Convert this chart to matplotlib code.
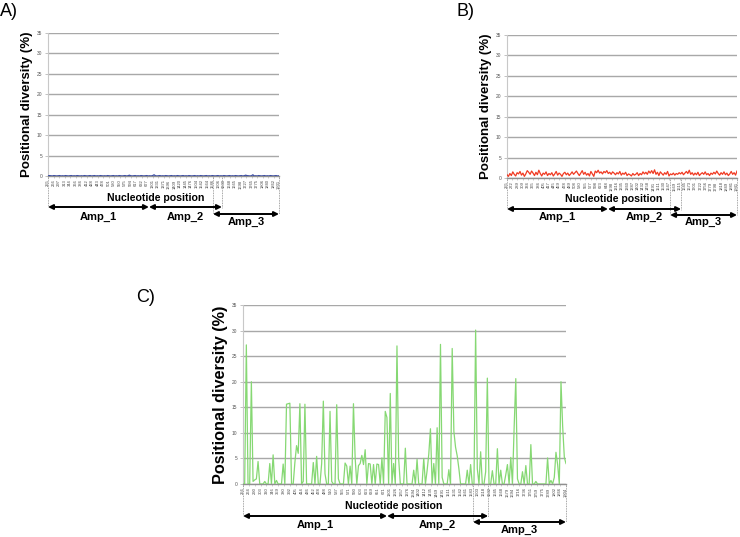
import numpy as np
import matplotlib
matplotlib.use("Agg")
import matplotlib.pyplot as plt
from matplotlib.transforms import blended_transform_factory

# ---------------- data ----------------
y_ticks = [0, 5, 10, 15, 20, 25, 30, 35]
amp_names = ["Amp_1", "Amp_2", "Amp_3"]

div_a = [0.05, 0.1, 0.05, 0.0, 0.1, 0.05, 0.0, 0.05, 0.1, 0.0,
         0.05, 0.0, 0.1, 0.05, 0.0, 0.05, 0.1, 0.0, 0.05, 0.0,
         0.1, 0.05, 0.0, 0.05, 0.0, 0.1, 0.05, 0.0, 0.05, 0.1,
         0.0, 0.05, 0.1, 0.0, 0.05, 0.0, 0.1, 0.05, 0.0, 0.05,
         0.0, 0.1, 0.05, 0.0, 0.05, 0.1, 0.0, 0.05, 0.0, 0.1,
         0.05, 0.0, 0.05, 0.1, 0.0, 0.05, 0.2, 0.05, 0.0, 0.05,
         0.1, 0.0, 0.05, 0.0, 0.1, 0.05, 0.0, 0.05, 0.1, 0.0,
         0.05, 0.0, 0.1, 0.3, 0.05, 0.0, 0.05, 0.1, 0.0, 0.05,
         0.0, 0.1, 0.05, 0.0, 0.05, 0.1, 0.0, 0.05, 0.0, 0.1,
         0.05, 0.0, 0.05, 0.1, 0.0, 0.05, 0.0, 0.1, 0.05, 0.0,
         0.05, 0.1, 0.0, 0.05, 0.0, 0.1, 0.05, 0.0, 0.05, 0.1,
         0.0, 0.05, 0.0, 0.1, 0.05, 0.0, 0.05, 0.1, 0.0, 0.05,
         0.0, 0.1, 0.05, 0.0, 0.05, 0.1, 0.0, 0.05, 0.0, 0.1,
         0.05, 0.0, 0.05, 0.1, 0.0, 0.05, 0.2, 0.1, 0.05, 0.0,
         0.05, 0.3, 0.0, 0.05, 0.0, 0.1, 0.05, 0.0, 0.05, 0.1,
         0.0, 0.05, 0.0, 0.1, 0.05, 0.0, 0.05, 0.1, 0.0, 0.05]

div_b = [0.8, 0.4, 1.1, 0.6, 1.5, 0.9, 0.5, 1.3, 1.0, 1.6,
         0.7, 1.2, 0.4, 1.0, 1.8, 1.4, 0.9, 1.7, 1.2, 0.6,
         1.4, 0.8, 1.9, 1.1, 0.5, 1.2, 0.9, 1.5, 0.6, 1.1,
         0.8, 1.3, 0.5, 1.0, 1.6, 0.7, 1.2, 0.9, 0.4, 1.1,
         1.4, 0.8, 1.2, 0.6, 1.0, 1.5, 0.9, 1.3, 1.7, 1.1,
         0.6, 1.2, 1.8, 0.9, 1.4, 0.7, 1.1, 0.5, 1.6, 1.0,
         0.4, 1.7, 1.3, 1.9, 1.2, 1.5, 1.0, 1.6, 1.3, 1.8,
         1.1, 1.4, 0.9, 1.5, 1.2, 0.8, 1.3, 1.0, 1.6, 0.7,
         1.2, 0.9, 1.4, 0.6, 1.0, 0.8, 0.5, 1.1, 0.7, 0.9,
         1.3, 0.6, 1.1, 0.8, 1.5, 1.0, 1.4, 0.9, 1.7, 1.2,
         1.8, 1.1, 2.0, 0.9, 1.4, 0.6, 1.5, 1.1, 0.7, 1.3,
         0.9, 1.6, 0.5, 1.0, 0.8, 1.2, 0.7, 1.1, 0.9, 1.3,
         1.0, 1.4, 0.8, 1.2, 1.6, 1.1, 1.9, 0.9, 1.3, 0.7,
         1.2, 0.8, 1.4, 0.6, 1.0, 1.3, 0.9, 1.5, 0.8, 1.1,
         0.6, 1.2, 0.9, 1.4, 1.0, 1.7, 1.1, 0.7, 1.3, 0.9,
         1.5, 0.8, 1.2, 0.6, 1.0, 1.6, 0.9, 1.3, 0.7, 1.7]

div_c = [0, 0, 27.2, 0, 0, 20, 0.5, 0.8, 1, 4.4,
         0, 0, 0, 0.5, 0, 0, 4, 0, 5.7, 0,
         0.7, 0, 0, 0, 3.9, 0, 15.6, 15.7, 15.8, 0,
         0, 4.2, 7.5, 6, 15.7, 0, 0.5, 15.6, 0, 0,
         0, 0, 4.2, 0, 5.4, 0, 0, 4, 16.2, 2,
         0, 0, 14.2, 0.5, 0, 0, 15.5, 1, 0, 0,
         0, 4.1, 3.5, 0, 3.5, 0, 15.7, 5.2, 0, 3.6,
         4, 5.6, 3.8, 6.7, 0, 4, 3.9, 0, 3.8, 0,
         3.9, 3.8, 0, 5.1, 0, 14.2, 13, 0, 17.7, 0,
         4, 0, 27, 5, 0, 0, 0, 7, 0, 0,
         0, 0, 2.7, 0, 4.8, 0, 0, 0, 5, 0,
         2.6, 5.8, 10.8, 0, 4, 0, 11, 0, 27.3, 1.3,
         0, 0, 0, 2.8, 0, 26.5, 10.3, 7.2, 5.5, 3,
         0, 0, 0, 0, 2.7, 0, 3.8, 0, 0, 30.1,
         3, 0, 6.3, 0, 0, 2.4, 20.7, 0, 0, 2.6,
         0, 0, 6.9, 0, 2.7, 0, 0, 1.8, 3.8, 0,
         5.2, 0, 10.9, 20.6, 1, 0, 0, 2.4, 0, 3.6,
         0, 0, 7.7, 0, 0, 0.5, 0, 0, 0, 0,
         0, 0, 5.1, 0, 0.7, 0, 1.3, 6.2, 3.8, 0,
         20, 11.3, 5.2, 4]

labels_a = [255, 266, 297, 313, 344, 366, 384, 412, 428, 443, 478, 501, 530, 550,
            575, 594, 617, 632, 677, 1301, 1331, 1371, 1396, 1409, 1420, 1445,
            1476, 1504, 1542, 1564, 1586, 1606, 1630, 1648, 1665, 1698, 1727,
            1765, 1775, 1806, 1840, 1862, 1931]
labels_b = [255, 272, 289, 309, 334, 365, 384, 405, 417, 445, 459, 478, 489, 508,
            530, 555, 577, 598, 623, 648, 1298, 1316, 1335, 1360, 1387, 1402,
            1432, 1458, 1491, 1511, 1530, 1547, 1569, 1615, 1645, 1673, 1701,
            1722, 1756, 1779, 1798, 1818, 1849, 1881, 1941]
labels_c = [256, 264, 290, 303, 320, 346, 359, 380, 392, 405, 414, 436, 452, 478,
            488, 510, 537, 555, 571, 590, 603, 623, 639, 651, 671, 1301, 1326,
            1357, 1376, 1394, 1402, 1412, 1435, 1469, 1491, 1511, 1531, 1542,
            1561, 1583, 1603, 1618, 1632, 1645, 1668, 1679, 1694, 1716, 1736,
            1751, 1759, 1775, 1789, 1802, 1866, 1904]

# amplicon boundaries as fractions of the x range: [amp1_end, amp3_start, amp2_end]
bounds_a = [0.437, 0.714, 0.753]
bounds_b = [0.439, 0.709, 0.757]
bounds_c = [0.446, 0.712, 0.759]

# ---------------- layout ----------------
W, H = 740, 537
fig = plt.figure(figsize=(W / 100, H / 100), dpi=100)
plt.rcParams['font.family'] = ['Liberation Sans', 'DejaVu Sans']

def fy(ypix):
    return 1 - ypix / H

def panel(rect, values, color, labels, bounds, ylab_size, ypix):
    ax = fig.add_axes(rect)
    n = len(values)
    x = np.arange(n)
    ax.plot(x, values, color=color, lw=0.9, zorder=3)
    ax.set_xlim(0, n - 1)
    ax.set_ylim(0, 35)
    ax.set_yticks(y_ticks)
    ax.set_yticklabels([str(v) for v in y_ticks], fontsize=3.5, color='#555555')
    ax.yaxis.grid(True, color='#a8a8a8', lw=1.0)
    ax.set_axisbelow(True)
    for s in ['top', 'right']:
        ax.spines[s].set_visible(False)
    ax.spines['left'].set_color('#c8c8c8')
    ax.spines['left'].set_linewidth(0.8)
    ax.spines['bottom'].set_color('#909090')
    ax.spines['bottom'].set_linewidth(1.0)
    ax.tick_params(axis='y', length=2, width=0.5, color='#aaaaaa', pad=2)
    tpos = np.linspace(0, n - 1, len(labels))
    ax.set_xticks(tpos)
    ax.set_xticklabels([str(v) for v in labels], rotation=90, fontsize=3.0,
                       color='#444444')
    ax.tick_params(axis='x', length=1.5, width=0.4, color='#aaaaaa', pad=1)
    ax.set_ylabel("Positional diversity (%)", fontsize=ylab_size,
                  fontweight='bold', labelpad=3)

    tr = blended_transform_factory(ax.transData, fig.transFigure)
    xr = n - 1
    a1e, a3s, a2e = [b * xr for b in bounds]
    y_axis = fy(ypix['axis'])
    for xv, yb in [(0, ypix['arr1']), (a3s, ypix['arr3']),
                   (a2e, ypix['arr1'] + 1), (xr, ypix['arr3'])]:
        ax.plot([xv, xv], [y_axis, fy(yb)], transform=tr, ls=(0, (1, 1)),
                color='#888888', lw=0.6, clip_on=False)
    arrow_kw = dict(arrowstyle='<|-|>', color='black', lw=1.4,
                    mutation_scale=7, shrinkA=0, shrinkB=0)
    for (x0, x1, yp) in [(0, a1e, ypix['arr1']), (a1e, a2e, ypix['arr1']),
                         (a3s, xr, ypix['arr3'])]:
        ax.annotate('', xy=(x1, fy(yp)), xytext=(x0, fy(yp)), xycoords=tr,
                    textcoords=tr, arrowprops=arrow_kw, annotation_clip=False)
    ax.text(0.465 * xr, fy(ypix['np']), "Nucleotide position", transform=tr,
            ha='center', va='center', fontsize=7.6, fontweight='bold')
    for name, (x0, x1), yp in zip(amp_names,
                                  [(0, a1e), (a1e, a2e), (a3s, xr)],
                                  [ypix['lab1'], ypix['lab1'], ypix['lab3']]):
        ax.text((x0 + x1) / 2, fy(yp), name, transform=tr, ha='center',
                va='center', fontsize=8, fontweight='bold')
    return ax

panel([48 / W, 1 - 176 / H, 231 / W, 143 / H], div_a, '#3d4ea3', labels_a,
      bounds_a, 9.5,
      dict(axis=176, arr1=207, arr3=214, np=198, lab1=217, lab3=222))
panel([507 / W, 1 - 178 / H, 230 / W, 143 / H], div_b, '#f03a22', labels_b,
      bounds_b, 9.5,
      dict(axis=178, arr1=209, arr3=215, np=199, lab1=217, lab3=222))
panel([243 / W, 1 - 484 / H, 323 / W, 179 / H], div_c, '#86d873', labels_c,
      bounds_c, 11.7,
      dict(axis=484, arr1=516, arr3=522, np=506, lab1=525, lab3=530))

fig.text(0 / W, fy(12), "A)", fontsize=13, ha='left', va='center')
fig.text(457 / W, fy(12), "B)", fontsize=13, ha='left', va='center')
fig.text(136 / W, fy(298), "C)", fontsize=13, ha='left', va='center')

fig.savefig("out.png", dpi=100)
